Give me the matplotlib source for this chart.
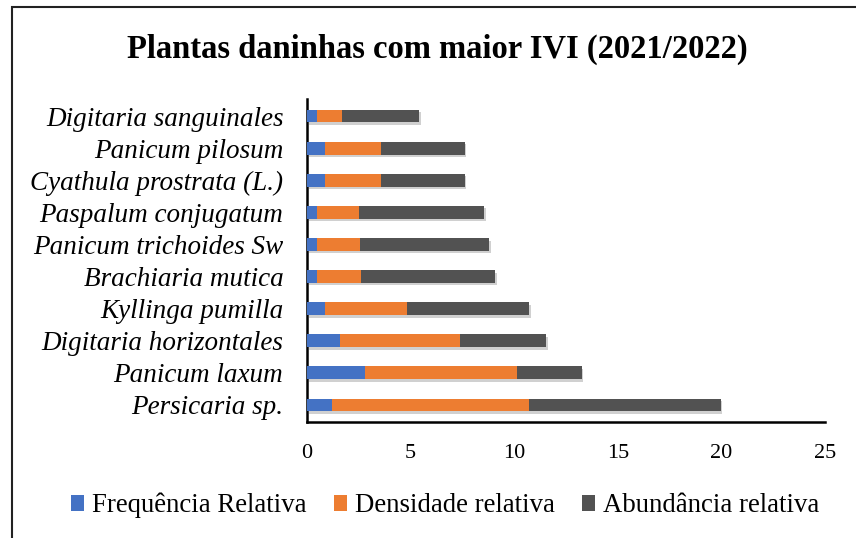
import matplotlib
matplotlib.use("Agg")
import matplotlib.pyplot as plt
import matplotlib.patheffects as pe
from matplotlib.patches import Rectangle
import numpy as np

species = ["Digitaria sanguinales", "Panicum pilosum", "Cyathula prostrata (L.)",
           "Paspalum conjugatum", "Panicum trichoides Sw", "Brachiaria mutica",
           "Kyllinga pumilla", "Digitaria horizontales", "Panicum laxum", "Persicaria sp."]
frequencia = [0.47, 0.85, 0.85, 0.47, 0.47, 0.47, 0.85, 1.59, 2.81, 1.22]
densidade = [1.20, 2.72, 2.72, 2.02, 2.09, 2.15, 3.99, 5.78, 7.34, 9.50]
abundancia = [3.74, 4.04, 4.04, 6.07, 6.24, 6.45, 5.87, 4.16, 3.10, 9.25]
series_names = ["Frequência Relativa", "Densidade relativa", "Abundância relativa"]
colors = ["#4472C4", "#ED7D31", "#525252"]
xticks = [0, 5, 10, 15, 20, 25]

plt.rcParams['font.family'] = ['Liberation Serif', 'DejaVu Serif']

fig = plt.figure(figsize=(8.56, 5.38), dpi=100)
ax = fig.add_axes([0.3586, 0.2156, 0.6052, 0.6004])

n = len(species)
y = np.arange(n)[::-1]
shadow = [pe.SimplePatchShadow(offset=(1.2, -1.8), shadow_rgbFace='#aaaaaa', alpha=0.55), pe.Normal()]
left = np.zeros(n)
handles = []
for vals, col, name in zip([frequencia, densidade, abundancia], colors, series_names):
    b = ax.barh(y, vals, left=left, height=0.4, color=col, label=name, zorder=3)
    for p in b.patches:
        p.set_path_effects(shadow)
    handles.append(b)
    left = left + np.array(vals)

ax.set_xlim(0, 25)
ax.set_ylim(-0.53, n - 1 + 0.53)
ax.set_yticks(y)
ax.set_yticklabels(species, fontsize=19.5, style='italic')
ax.set_xticks(xticks)
ax.set_xticklabels([str(t) for t in xticks], fontsize=16)
ax.tick_params(axis='y', length=0, pad=17)
ax.tick_params(axis='x', length=0, pad=16)
for s in ['top', 'right']:
    ax.spines[s].set_visible(False)
for s in ['left', 'bottom']:
    ax.spines[s].set_linewidth(1.8)
    ax.spines[s].set_color('black')

fig.text(0.511, 0.908, "Plantas daninhas com maior IVI (2021/2022)", ha='center', va='center',
         fontsize=23.5, fontweight='bold')

leg = fig.legend(handles=handles, labels=series_names, loc='center', bbox_to_anchor=(0.52, 0.06),
                 ncol=3, frameon=False, fontsize=19.3, handlelength=0.5, handleheight=0.5,
                 handletextpad=0.3, columnspacing=1.0)
for h in leg.legend_handles:
    h.set_path_effects([])

fig.add_artist(Rectangle((12/856, -0.1), 1.0, 1 - 7/538 + 0.1, transform=fig.transFigure,
                         fill=False, edgecolor='#222222', linewidth=1.5))

fig.savefig("out.png", dpi=100)
